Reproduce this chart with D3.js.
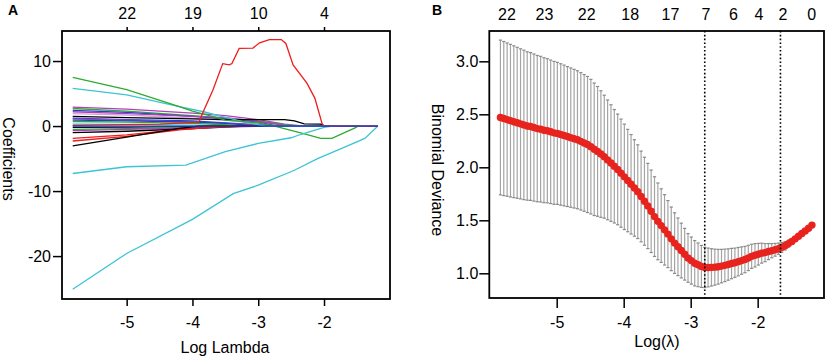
<!DOCTYPE html>
<html>
<head>
<meta charset="utf-8">
<script src="https://cdn.jsdelivr.net/npm/d3@7"></script>
<style>
  body { margin: 0; background: #fff; }
  svg { display: block; font-family: "Liberation Sans", Arial, sans-serif; }
  .tick text { font-size: 16px; fill: #000; }
  .tick line { stroke: #000; stroke-width: 1.5; }
</style>
</head>
<body>
<div id="wrapper"></div>
<script>
// ---- panel A : lasso coefficient paths ----
const dfTopA = ["22", "19", "10", "4"]
const dfTopALambda = [-5, -4, -3, -2]
const xTicksA = [-5, -4, -3, -2]
const yTicksA = [-20, -10, 0, 10]

const pathColors = [
  "#b040b8", "#2eaa2e", "#1f3fd0", "#b040b8", "#d8a0d8", "#000000", "#1f3fd0",
  "#b040b8", "#1f3fd0", "#2eaa2e", "#3cc4d4",
  "#000000", "#2eaa2e", "#b040b8", "#000000", "#ee1c1c", "#ee1c1c", "#000000",
  "#3cc4d4", "#2eaa2e", "#3cc4d4", "#3cc4d4", "#ee1c1c", "#1f3fd0"
]
// [log lambda, coefficient]
const coefPaths = [
  [[-5.82,2.9],[-5.0,2.6],[-4.0,2.0],[-3.5,1.6],[-3.0,1.0],[-2.6,0.3],[-2.3,0],[-1.18,0]],
  [[-5.82,2.7],[-5.0,2.3],[-4.0,1.6],[-3.5,1.2],[-3.0,0.8],[-2.6,0.2],[-2.4,0],[-1.18,0]],
  [[-5.82,2.4],[-5.0,2.1],[-4.0,1.5],[-3.5,1.1],[-3.0,0.6],[-2.7,0],[-1.18,0]],
  [[-5.82,2.2],[-5.0,1.9],[-4.0,1.5],[-3.5,1.3],[-3.0,0.7],[-2.6,0.1],[-2.4,0],[-1.18,0]],
  [[-5.82,1.9],[-5.0,1.7],[-4.0,1.2],[-3.5,0.9],[-3.0,0.4],[-2.8,0],[-1.18,0]],
  [[-5.82,1.5],[-5.0,1.3],[-4.0,1.1],[-3.5,1.0],[-3.0,1.0],[-2.6,1.0],[-2.45,0.8],[-2.3,0.35],[-2.05,0.3],[-2.0,0],[-1.18,0]],
  [[-5.82,1.2],[-5.0,1.0],[-4.0,0.8],[-3.5,0.5],[-3.0,0.2],[-2.8,0],[-1.18,0]],
  [[-5.82,1.1],[-5.0,0.9],[-4.0,0.6],[-3.5,0.4],[-3.0,0.1],[-2.9,0],[-1.18,0]],
  [[-5.82,0.9],[-5.0,0.8],[-4.0,0.6],[-3.5,0.4],[-3.0,0],[-1.18,0]],
  [[-5.82,0.7],[-5.0,0.6],[-4.0,0.4],[-3.5,0.2],[-3.2,0],[-1.18,0]],
  [[-5.82,0.3],[-5.0,0.25],[-4.0,0.15],[-3.5,0],[-1.18,0]],
  [[-5.82,-0.2],[-5.0,-0.15],[-4.0,-0.1],[-3.6,0],[-1.18,0]],
  [[-5.82,-0.5],[-5.0,-0.4],[-4.0,-0.2],[-3.5,0],[-1.18,0]],
  [[-5.82,-0.7],[-5.0,-0.5],[-4.0,-0.3],[-3.4,0],[-1.18,0]],
  [[-5.82,-1.0],[-5.0,-0.8],[-4.0,-0.4],[-3.5,-0.15],[-3.2,0],[-1.18,0]],
  [[-5.82,-1.9],[-5.0,-1.35],[-4.2,-0.5],[-3.6,-0.15],[-3.0,-0.05],[-2.9,0],[-1.18,0]],
  [[-5.82,-2.3],[-5.0,-1.6],[-4.2,-0.6],[-3.6,-0.1],[-3.1,0],[-1.18,0]],
  [[-5.82,-3.05],[-5.0,-1.7],[-4.2,-0.35],[-3.9,0],[-1.18,0]],
  [[-5.82,5.8],[-5.0,4.8],[-4.2,3.0],[-3.83,2.2],[-3.5,1.34],[-3.2,0.6],[-2.9,0],[-1.18,0]],
  [[-5.82,7.5],[-5.0,5.6],[-4.2,3.0],[-4.0,2.3],[-3.7,1.5],[-3.5,0.9],[-3.0,0.5],[-2.75,0],[-2.34,-1.1],[-2.05,-1.9],[-1.88,-1.9],[-1.52,-0.25],[-1.48,0],[-1.18,0]],
  [[-5.82,-7.3],[-5.0,-6.26],[-4.1,-6.0],[-3.5,-3.95],[-3.0,-2.67],[-2.5,-1.8],[-2.36,-1.3],[-2.0,-0.2],[-1.87,0],[-1.18,0]],
  [[-5.82,-25.1],[-5.0,-19.6],[-4.0,-14.35],[-3.38,-10.4],[-3.0,-9.1],[-2.45,-6.8],[-2.09,-4.97],[-1.73,-3.43],[-1.38,-1.9],[-1.18,0]],
  [[-5.82,0.1],[-4.5,0.3],[-3.9,0.6],[-3.85,1.9],[-3.69,5.5],[-3.54,9.6],[-3.44,9.4],[-3.40,9.6],[-3.29,11.95],[-3.08,12.0],[-2.98,12.8],[-2.83,13.3],[-2.65,13.3],[-2.58,12.7],[-2.47,9.4],[-2.26,6.6],[-2.14,4.3],[-2.03,0.4],[-2.0,0],[-1.18,0]],
  [[-5.82,0],[-1.18,0]]
]

// ---- panel B : cross-validation curve ----
const dfTopB = ["22", "23", "22", "18", "17", "7", "6", "4", "2", "0"]
const dfTopBLambda = [-5.75, -5.19, -4.56, -3.91, -3.31, -2.78, -2.37, -1.99, -1.63, -1.2]
const xTicksB = [-5, -4, -3, -2]
const yTicksB = [1.0, 1.5, 2.0, 2.5, 3.0]
const lambdaMin = -2.79
const lambda1se = -1.66

const logLambdaB = [
  -5.84, -5.79, -5.74, -5.69, -5.64, -5.59, -5.54, -5.49, -5.44, -5.39,
  -5.34, -5.29, -5.24, -5.19, -5.14, -5.09, -5.04, -4.99, -4.94, -4.89,
  -4.84, -4.79, -4.74, -4.69, -4.64, -4.59, -4.54, -4.49, -4.44, -4.39,
  -4.34, -4.29, -4.24, -4.19, -4.14, -4.09, -4.04, -3.99, -3.94, -3.89,
  -3.84, -3.79, -3.74, -3.69, -3.64, -3.59, -3.54, -3.49, -3.44, -3.39,
  -3.34, -3.29, -3.24, -3.19, -3.14, -3.09, -3.04, -2.99, -2.94, -2.89,
  -2.84, -2.79, -2.74, -2.69, -2.64, -2.59, -2.54, -2.49, -2.44, -2.39,
  -2.34, -2.29, -2.24, -2.19, -2.14, -2.09, -2.04, -1.99, -1.94, -1.89,
  -1.84, -1.79, -1.74, -1.69, -1.64, -1.59, -1.54, -1.49, -1.44, -1.39,
  -1.34, -1.29, -1.24, -1.19
]
const cvMean = [
  2.47, 2.46, 2.45, 2.44, 2.43, 2.42, 2.41, 2.40, 2.39, 2.385,
  2.375, 2.365, 2.36, 2.35, 2.345, 2.335, 2.325, 2.32, 2.31, 2.30,
  2.29, 2.28, 2.27, 2.26, 2.245, 2.23, 2.215, 2.195, 2.17, 2.15,
  2.125, 2.10, 2.07, 2.04, 2.01, 1.98, 1.945, 1.91, 1.875, 1.84,
  1.805, 1.77, 1.725, 1.68, 1.635, 1.585, 1.535, 1.49, 1.45, 1.41,
  1.37, 1.325, 1.285, 1.25, 1.215, 1.18, 1.145, 1.12, 1.095, 1.08,
  1.065, 1.055, 1.055, 1.056, 1.058, 1.062, 1.068, 1.075, 1.083, 1.092,
  1.10, 1.11, 1.12, 1.13, 1.145, 1.16, 1.17, 1.18, 1.19, 1.195,
  1.205, 1.213, 1.222, 1.232, 1.245, 1.26, 1.28, 1.30, 1.325, 1.35,
  1.375, 1.40, 1.425, 1.455
]
const cvSd = [
  0.73, 0.727, 0.723, 0.72, 0.716, 0.712, 0.708, 0.705, 0.70, 0.697,
  0.694, 0.69, 0.687, 0.684, 0.68, 0.677, 0.674, 0.67, 0.667, 0.664,
  0.66, 0.657, 0.654, 0.651, 0.648, 0.645, 0.642, 0.635, 0.625, 0.612,
  0.597, 0.58, 0.565, 0.55, 0.535, 0.522, 0.51, 0.497, 0.483, 0.469,
  0.455, 0.442, 0.428, 0.415, 0.402, 0.389, 0.376, 0.362, 0.347, 0.332,
  0.316, 0.30, 0.286, 0.272, 0.258, 0.244, 0.23, 0.222, 0.214, 0.206,
  0.198, 0.19, 0.183, 0.176, 0.17, 0.164, 0.158, 0.153, 0.148, 0.143,
  0.138, 0.134, 0.129, 0.124, 0.119, 0.114, 0.11, 0.102, 0.094, 0.085,
  0.076, 0.067, 0.06, 0.053, 0.046, 0.04, 0.034, 0.027, 0.02, 0.016,
  0.012, 0.008, 0.004, 0.0
]

const width = 829
const height = 359

const svg = d3.select("#wrapper")
  .append("svg")
    .attr("width", width)
    .attr("height", height)

// ===== Panel A =====
const boxA = { left: 62, right: 390, top: 31, bottom: 299 }

const xA = d3.scaleLinear().domain([-5.983, -0.997]).range([boxA.left, boxA.right])
const yA = d3.scaleLinear().domain([-26.6, 14.62]).range([boxA.bottom, boxA.top])

const pathGen = d3.line()
  .x(d => xA(d[0]))
  .y(d => yA(d[1]))

svg.append("g")
  .selectAll("path")
  .data(coefPaths)
  .join("path")
    .attr("d", pathGen)
    .attr("fill", "none")
    .attr("stroke", (d, i) => pathColors[i])
    .attr("stroke-width", 1.3)

svg.append("rect")
  .attr("x", boxA.left).attr("y", boxA.top)
  .attr("width", boxA.right - boxA.left).attr("height", boxA.bottom - boxA.top)
  .attr("fill", "none").attr("stroke", "#000").attr("stroke-width", 1.8)

svg.append("g")
  .attr("transform", `translate(${boxA.left},0)`)
  .call(d3.axisLeft(yA).tickValues(yTicksA).tickFormat(d => String(d)).tickSize(9).tickPadding(2))
  .call(g => g.select(".domain").remove())

svg.append("g")
  .attr("transform", `translate(0,${boxA.bottom})`)
  .call(d3.axisBottom(xA).tickValues(xTicksA).tickFormat(d => String(d)).tickSize(7).tickPadding(11))
  .call(g => g.select(".domain").remove())

svg.append("g")
  .attr("transform", `translate(0,${boxA.top})`)
  .call(d3.axisTop(xA).tickValues(dfTopALambda).tickFormat((d, i) => dfTopA[i]).tickSize(4).tickPadding(8))
  .call(g => g.select(".domain").remove())

svg.append("text")
  .attr("transform", `translate(3,159) rotate(90)`)
  .attr("text-anchor", "middle")
  .style("font-size", "16px")
  .text("Coefficients")

svg.append("text")
  .attr("x", (boxA.left + boxA.right) / 2 - 1)
  .attr("y", 353)
  .attr("text-anchor", "middle")
  .style("font-size", "16px")
  .text("Log Lambda")

svg.append("text")
  .attr("x", 8).attr("y", 15)
  .style("font-size", "14px").style("font-weight", "bold")
  .text("A")

// ===== Panel B =====
const boxB = { left: 489.3, right: 824, top: 31, bottom: 298 }

const xB = d3.scaleLinear().domain([-6.006, -1.01]).range([boxB.left, boxB.right])
const yB = d3.scaleLinear().domain([0.767, 3.286]).range([boxB.bottom, boxB.top])

const cvData = logLambdaB.map((l, i) => ({ l, m: cvMean[i], sd: cvSd[i] }))

const bars = svg.append("g")
bars.selectAll("line.bar")
  .data(cvData)
  .join("line")
    .attr("class", "bar")
    .attr("x1", d => xB(d.l)).attr("x2", d => xB(d.l))
    .attr("y1", d => yB(d.m - d.sd)).attr("y2", d => yB(d.m + d.sd))
    .attr("stroke", "#a4a4a4").attr("stroke-width", 1.2)
bars.selectAll("line.capTop")
  .data(cvData)
  .join("line")
    .attr("class", "capTop")
    .attr("x1", d => xB(d.l) - 1.6).attr("x2", d => xB(d.l) + 1.6)
    .attr("y1", d => yB(d.m + d.sd)).attr("y2", d => yB(d.m + d.sd))
    .attr("stroke", "#8a8a8a").attr("stroke-width", 1.2)
bars.selectAll("line.capBot")
  .data(cvData)
  .join("line")
    .attr("class", "capBot")
    .attr("x1", d => xB(d.l) - 1.6).attr("x2", d => xB(d.l) + 1.6)
    .attr("y1", d => yB(d.m - d.sd)).attr("y2", d => yB(d.m - d.sd))
    .attr("stroke", "#8a8a8a").attr("stroke-width", 1.2)

svg.append("g")
  .selectAll("circle")
  .data(cvData)
  .join("circle")
    .attr("cx", d => xB(d.l))
    .attr("cy", d => yB(d.m))
    .attr("r", 3.7)
    .attr("fill", "#e8231d")

svg.append("g")
  .selectAll("line")
  .data([lambdaMin, lambda1se])
  .join("line")
    .attr("x1", d => xB(d)).attr("x2", d => xB(d))
    .attr("y1", boxB.top).attr("y2", boxB.bottom)
    .attr("stroke", "#000").attr("stroke-width", 1.6)
    .attr("stroke-dasharray", "1.6,2.2")

svg.append("rect")
  .attr("x", boxB.left).attr("y", boxB.top)
  .attr("width", boxB.right - boxB.left).attr("height", boxB.bottom - boxB.top)
  .attr("fill", "none").attr("stroke", "#000").attr("stroke-width", 1.8)

svg.append("g")
  .attr("transform", `translate(${boxB.left},0)`)
  .call(d3.axisLeft(yB).tickValues(yTicksB).tickFormat(d => d.toFixed(1)).tickSize(10).tickPadding(1))
  .call(g => g.select(".domain").remove())

svg.append("g")
  .attr("transform", `translate(0,${boxB.bottom})`)
  .call(d3.axisBottom(xB).tickValues(xTicksB).tickFormat(d => String(d)).tickSize(10).tickPadding(9))
  .call(g => g.select(".domain").remove())

svg.append("g")
  .attr("transform", `translate(0,${boxB.top})`)
  .call(d3.axisTop(xB).tickValues(dfTopBLambda).tickFormat((d, i) => dfTopB[i]).tickSize(0).tickPadding(11))
  .call(g => g.select(".domain").remove())

svg.append("text")
  .attr("transform", `translate(432,170) rotate(90)`)
  .attr("text-anchor", "middle")
  .style("font-size", "16px")
  .text("Binomial Deviance")

svg.append("text")
  .attr("x", 657)
  .attr("y", 347)
  .attr("text-anchor", "middle")
  .style("font-size", "16px")
  .text("Log(λ)")

svg.append("text")
  .attr("x", 432).attr("y", 15)
  .style("font-size", "14px").style("font-weight", "bold")
  .text("B")
</script>
</body>
</html>
